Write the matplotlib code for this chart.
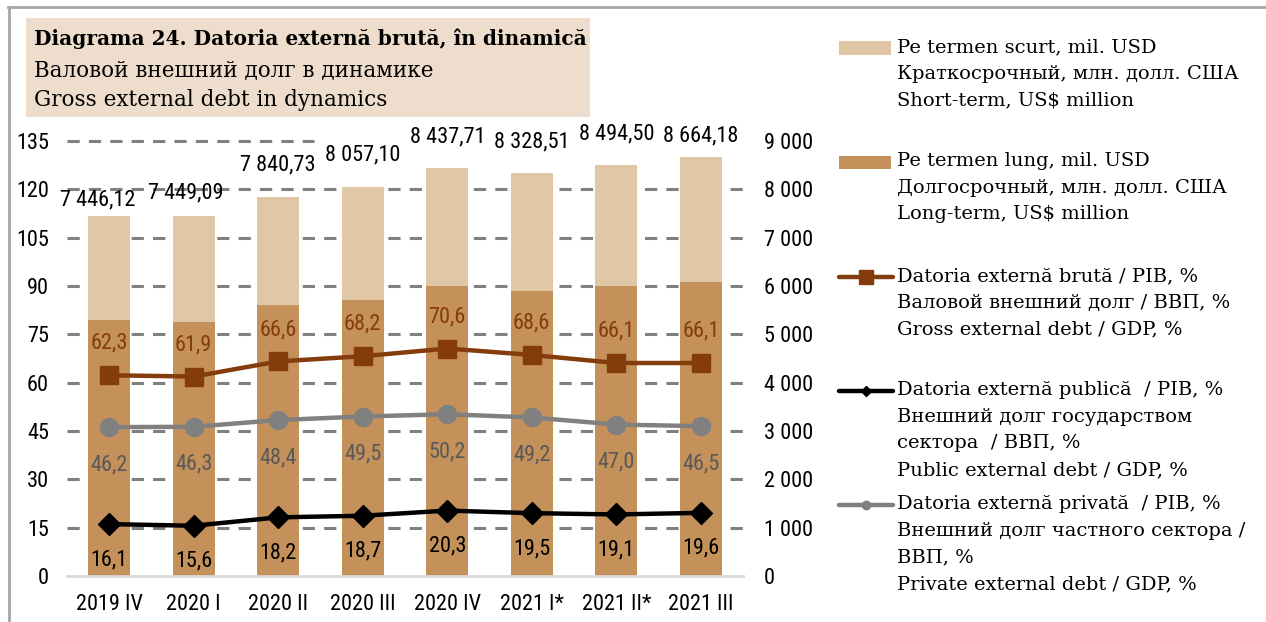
import matplotlib
matplotlib.use("Agg")
import matplotlib.pyplot as plt
from matplotlib.lines import Line2D
from matplotlib.patches import Rectangle
from matplotlib.ticker import FuncFormatter, MultipleLocator
from matplotlib import font_manager
import numpy as np

# ---------------- data ----------------
categories = ["2019 IV", "2020 I", "2020 II", "2020 III", "2020 IV", "2021 I*", "2021 II*", "2021 III"]
total_debt = [7446.12, 7449.09, 7840.73, 8057.10, 8437.71, 8328.51, 8494.50, 8664.18]
long_term = [5296, 5248, 5606, 5710, 6000, 5900, 6000, 6090]
short_term = [t - l for t, l in zip(total_debt, long_term)]
gross_gdp = [62.3, 61.9, 66.6, 68.2, 70.6, 68.6, 66.1, 66.1]
private_gdp = [46.2, 46.3, 48.4, 49.5, 50.2, 49.2, 47.0, 46.5]
public_gdp = [16.1, 15.6, 18.2, 18.7, 20.3, 19.5, 19.1, 19.6]

title_lines = ["Diagrama 24. Datoria externă brută, în dinamică",
               "Валовой внешний долг в динамике",
               "Gross external debt in dynamics"]
legend_labels = [
    "Pe termen scurt, mil. USD\nКраткосрочный, млн. долл. США\nShort-term, US$ million",
    "Pe termen lung, mil. USD\nДолгосрочный, млн. долл. США\nLong-term, US$ million",
    "Datoria externă brută / PIB, %\nВаловой внешний долг / ВВП, %\nGross external debt / GDP, %",
    "Datoria externă publică  / PIB, %\nВнешний долг государством\nсектора  / ВВП, %\nPublic external debt / GDP, %",
    "Datoria externă privată  / PIB, %\nВнешний долг частного сектора /\nВВП, %\nPrivate external debt / GDP, %",
]

# ---------------- style ----------------
C_SHORT = "#E0C7A6"
C_LONG = "#C4915A"
C_GROSS = "#843C0C"
C_PRIV = "#808080"
C_PRIV_TXT = "#595959"
C_PUB = "#000000"

installed = {f.name for f in font_manager.fontManager.ttflist}
narrow_candidates = ["Roboto Condensed", "Liberation Sans Narrow", "DejaVu Sans"]
NARROW = [f for f in narrow_candidates if f in installed] or ["DejaVu Sans"]
SERIF = ["DejaVu Serif"]
NARROW_FP = dict(family=NARROW, stretch="condensed")
FS = 16

# label placement tweaks for total labels (offset in points: dx, dy above bar top)
total_label_offsets = [(-8, 12), (-6, 16.5), (0, 23), (0, 22.5), (0, 22.5), (0, 23), (0, 22.5), (0, 15)]

W, H = 1266, 622
fig = plt.figure(figsize=(W / 100, H / 100), dpi=100)

def fx(px):
    return px / W

def fy(py):
    return 1 - py / H

ax = fig.add_axes([fx(67), fy(576), fx(743) - fx(67), fy(141) - fy(576)])
ax2 = ax.twinx()
ax.set_zorder(ax2.get_zorder() + 1)
ax.patch.set_visible(False)

x = np.arange(len(categories))
bw = 0.5
ax2.bar(x, long_term, bw, color=C_LONG, zorder=3)
ax2.bar(x, short_term, bw, bottom=long_term, color=C_SHORT, zorder=3)

ax2.set_ylim(0, 9000)
ax.set_ylim(0, 135)
ax.set_xlim(-0.5, len(categories) - 0.5)
ax2.yaxis.set_major_locator(MultipleLocator(1000))
ax.yaxis.set_major_locator(MultipleLocator(15))

def thousands(v, pos):
    return f"{int(round(v)):,}".replace(",", " ")

ax2.yaxis.set_major_formatter(FuncFormatter(thousands))

# gridlines (behind bars) except top
for v in range(1000, 9000, 1000):
    ax2.axhline(v, color="#808080", lw=2.2, ls=(0, (4, 3)), zorder=1)
ax2.axhline(9000, xmin=0, xmax=0.365, color="#808080", lw=2.2, ls=(0, (4, 3)), zorder=1, clip_on=False)

for a in (ax, ax2):
    for s in a.spines.values():
        s.set_visible(False)
ax.spines["bottom"].set_visible(True)
ax.spines["bottom"].set_color("#D9D9D9")
ax.spines["bottom"].set_linewidth(2)

ax.tick_params(axis="y", length=0, pad=13, labelsize=FS)
ax2.tick_params(axis="y", length=0, pad=15, labelsize=FS)
ax.tick_params(axis="x", length=0, pad=13, labelsize=FS)
ax.set_xticks(x)
ax.set_xticklabels(categories)
for lab in ax.get_yticklabels() + ax2.get_yticklabels() + ax.get_xticklabels():
    lab.set_fontfamily(NARROW)
    lab.set_fontstretch("condensed")

# lines
ax.plot(x, gross_gdp, color=C_GROSS, lw=3.2, marker="s", ms=13, zorder=5)
ax.plot(x, private_gdp, color=C_PRIV, lw=3.2, marker="o", ms=13, zorder=5)
ax.plot(x, public_gdp, color=C_PUB, lw=3.2, marker="D", ms=11, zorder=5)

def fmt1(v):
    return f"{v:.1f}".replace(".", ",")

# data labels
for i in range(len(x)):
    ax.annotate(fmt1(gross_gdp[i]), (x[i], gross_gdp[i]), xytext=(0, 23),
                textcoords="offset points", ha="center", va="center", fontsize=FS,
                color=C_GROSS, zorder=6, **NARROW_FP)
    ax.annotate(fmt1(private_gdp[i]), (x[i], private_gdp[i]), xytext=(0, -27),
                textcoords="offset points", ha="center", va="center", fontsize=FS,
                color=C_PRIV_TXT, zorder=6, **NARROW_FP)
    ax.annotate(fmt1(public_gdp[i]), (x[i], public_gdp[i]), xytext=(0, -25.5),
                textcoords="offset points", ha="center", va="center", fontsize=FS,
                color="black", zorder=6, **NARROW_FP)
    ax2.annotate(f"{total_debt[i]:,.2f}".replace(",", " ").replace(".", ","), (x[i], total_debt[i]),
                 xytext=total_label_offsets[i], textcoords="offset points", ha="center", va="center",
                 fontsize=FS, color="black", annotation_clip=False, **NARROW_FP)

# ---------------- title box ----------------
fig.patches.append(Rectangle((fx(26), fy(117)), fx(590) - fx(26), fy(18) - fy(117),
                             transform=fig.transFigure, facecolor="#EEDDCC", edgecolor="none", zorder=0))
fig.text(fx(34), fy(39), title_lines[0], fontsize=14.5, fontweight="bold", family=SERIF, va="center", ha="left")
fig.text(fx(34), fy(70), title_lines[1], fontsize=15.5, family=SERIF, va="center", ha="left")
fig.text(fx(34), fy(100), title_lines[2], fontsize=15.5, family=SERIF, va="center", ha="left")

# ---------------- frame ----------------
fig.add_artist(Line2D([fx(8), 1], [fy(7), fy(7)], transform=fig.transFigure, color="#A6A6A6", lw=2))
fig.add_artist(Line2D([fx(9), fx(9)], [fy(7), 0], transform=fig.transFigure, color="#A6A6A6", lw=2))

# ---------------- legend ----------------
entry_y = [48, 162, 277, 391, 505]
for k, lab in enumerate(legend_labels):
    yy = entry_y[k]
    fig.text(fx(897), fy(yy) + 10 / H, lab, fontsize=14, family=SERIF, va="top", ha="left",
             linespacing=1.62)
    if k == 0 or k == 1:
        col = C_SHORT if k == 0 else C_LONG
        fig.patches.append(Rectangle((fx(839), fy(yy + 6.5)), fx(52), 13 / H, transform=fig.transFigure,
                                     facecolor=col, edgecolor="none"))
    else:
        col, mk, ms = [(C_GROSS, "s", 10), (C_PUB, "D", 5), (C_PRIV, "o", 6)][k - 2]
        fig.add_artist(Line2D([fx(839), fx(893)], [fy(yy), fy(yy)], transform=fig.transFigure,
                              color=col, lw=3.2, solid_capstyle="round"))
        fig.add_artist(Line2D([fx(866)], [fy(yy)], transform=fig.transFigure, color=col,
                              marker=mk, ms=ms, lw=0))

fig.savefig("out.png", dpi=100)
